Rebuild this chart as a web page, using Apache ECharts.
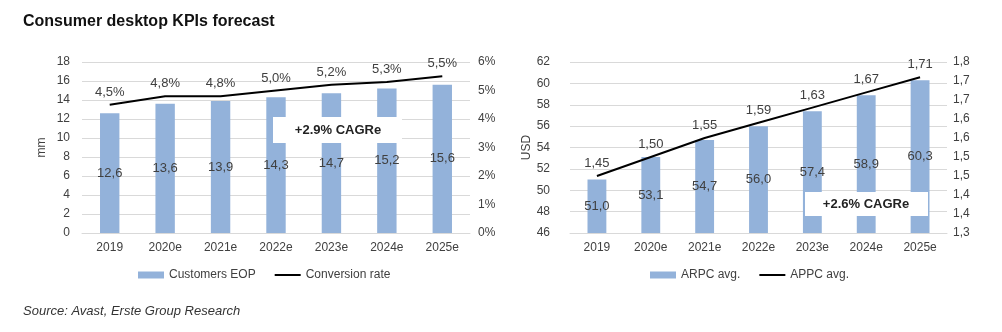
<!DOCTYPE html>
<html><head><meta charset="utf-8">
<script src="https://cdn.jsdelivr.net/npm/echarts@6/dist/echarts.min.js"></script>
<style>html,body{margin:0;padding:0;background:#fff;}#c{width:1002px;height:332px;}</style>
</head><body><div id="c"></div>
<script>
const categories = ['2019','2020e','2021e','2022e','2023e','2024e','2025e'];
const customersEOP = [12.6, 13.6, 13.9, 14.3, 14.7, 15.2, 15.6];
const conversionRate = [4.5, 4.8, 4.8, 5.0, 5.2, 5.3, 5.5];
const arpcAvg = [51.0, 53.1, 54.7, 56.0, 57.4, 58.9, 60.3];
const appcAvg = [1.45, 1.50, 1.55, 1.59, 1.63, 1.67, 1.71];
const appcTickLabels = ['1,3','1,4','1,4','1,5','1,5','1,6','1,6','1,7','1,7','1,8'];

const FONT = 'Liberation Sans, Arial, sans-serif';
const TXT = '#404040';
const BAR = '#93B2DA';
const GRID = '#D9D9D9';
const comma = (v, d) => v.toFixed(d).replace('.', ',');

const chart = echarts.init(document.getElementById('c'), null, {renderer: 'canvas'});
const axisLbl = {color: TXT, fontFamily: FONT, fontSize: 12};
const lineLbl = {show: true, position: 'top', distance: 6, color: TXT, fontFamily: FONT, fontSize: 13};
chart.setOption({
  animation: false,
  textStyle: {fontFamily: FONT},
  grid: [
    {left: 82, width: 388, top: 62, height: 171},
    {left: 570, width: 377, top: 62, height: 171}
  ],
  legend: [
    {data: [{name: 'Customers EOP', icon: 'rect'}, {name: 'Conversion rate', itemStyle: {opacity: 0}}], left: 133, top: 264, itemWidth: 26, itemHeight: 7, itemGap: 18,
     textStyle: {color: TXT, fontFamily: FONT, fontSize: 12}},
    {data: [{name: 'ARPC avg.', icon: 'rect'}, {name: 'APPC avg.', itemStyle: {opacity: 0}}], left: 645, top: 264, itemWidth: 26, itemHeight: 7, itemGap: 18,
     textStyle: {color: TXT, fontFamily: FONT, fontSize: 12}}
  ],
  xAxis: [
    {type: 'category', gridIndex: 0, data: categories, axisLine: {lineStyle: {color: GRID}}, axisTick: {show: false},
     axisLabel: Object.assign({margin: 9}, axisLbl)},
    {type: 'category', gridIndex: 1, data: categories, axisLine: {lineStyle: {color: GRID}}, axisTick: {show: false},
     axisLabel: Object.assign({margin: 9}, axisLbl)}
  ],
  yAxis: [
    {type: 'value', gridIndex: 0, min: 0, max: 18, interval: 2, name: 'mm', nameLocation: 'middle', nameGap: 34,
     nameTextStyle: {color: TXT, fontFamily: FONT, fontSize: 12},
     axisLabel: Object.assign({margin: 12}, axisLbl), splitLine: {lineStyle: {color: GRID}}, axisLine: {show: false}},
    {type: 'value', gridIndex: 0, min: 0, max: 6, interval: 1, position: 'right',
     axisLabel: Object.assign({margin: 8, formatter: v => v + '%'}, axisLbl), splitLine: {show: false}, axisLine: {show: false}},
    {type: 'value', gridIndex: 1, min: 46, max: 62, interval: 2, name: 'USD', nameLocation: 'middle', nameGap: 32,
     nameTextStyle: {color: TXT, fontFamily: FONT, fontSize: 12},
     axisLabel: Object.assign({margin: 20}, axisLbl), splitLine: {lineStyle: {color: GRID}}, axisLine: {show: false}},
    {type: 'value', gridIndex: 1, min: 1.30, max: 1.75, interval: 0.05, position: 'right',
     axisLabel: Object.assign({margin: 6, formatter: (v, i) => appcTickLabels[i]}, axisLbl), splitLine: {show: false}, axisLine: {show: false}}
  ],
  series: [
    {name: 'Customers EOP', type: 'bar', xAxisIndex: 0, yAxisIndex: 0, data: customersEOP, barWidth: '35%',
     itemStyle: {color: BAR}, z: 2,
     label: {show: true, position: 'inside', color: TXT, fontFamily: FONT, fontSize: 13, formatter: p => comma(p.value, 1)}},
    {name: 'Conversion rate', type: 'line', xAxisIndex: 0, yAxisIndex: 1, data: conversionRate, symbol: 'circle', symbolSize: 0.1, showSymbol: true,
     lineStyle: {color: '#000', width: 2}, itemStyle: {color: '#000'}, z: 5,
     label: Object.assign({formatter: p => comma(p.value, 1) + '%'}, lineLbl)},
    {name: 'ARPC avg.', type: 'bar', xAxisIndex: 1, yAxisIndex: 2, data: arpcAvg, barWidth: '35%',
     itemStyle: {color: BAR}, z: 2,
     label: {show: true, position: 'inside', color: TXT, fontFamily: FONT, fontSize: 13, formatter: p => comma(p.value, 1)}},
    {name: 'APPC avg.', type: 'line', xAxisIndex: 1, yAxisIndex: 3, data: appcAvg, symbol: 'circle', symbolSize: 0.1, showSymbol: true,
     lineStyle: {color: '#000', width: 2}, itemStyle: {color: '#000'}, z: 5,
     label: Object.assign({formatter: p => comma(p.value, 2)}, lineLbl)}
  ],
  graphic: [
    {type: 'text', left: 23, top: 14, style: {text: 'Consumer desktop KPIs forecast', font: 'bold 16px ' + FONT, fill: '#111'}},
    {type: 'text', left: 23, top: 305, style: {text: 'Source: Avast, Erste Group Research', font: 'italic 13px ' + FONT, fill: '#333'}},
    {type: 'rect', shape: {x: 273, y: 117, width: 129, height: 26}, style: {fill: '#fff'}, z: 3},
    {type: 'text', x: 338, y: 130, style: {text: '+2.9% CAGRe', font: 'bold 13px ' + FONT, fill: '#222', align: 'center', verticalAlign: 'middle'}, z: 4},
    {type: 'rect', shape: {x: 805, y: 192, width: 123, height: 24}, style: {fill: '#fff'}, z: 3},
    {type: 'text', x: 866, y: 204, style: {text: '+2.6% CAGRe', font: 'bold 13px ' + FONT, fill: '#222', align: 'center', verticalAlign: 'middle'}, z: 4}
  ]
});
</script></body></html>
